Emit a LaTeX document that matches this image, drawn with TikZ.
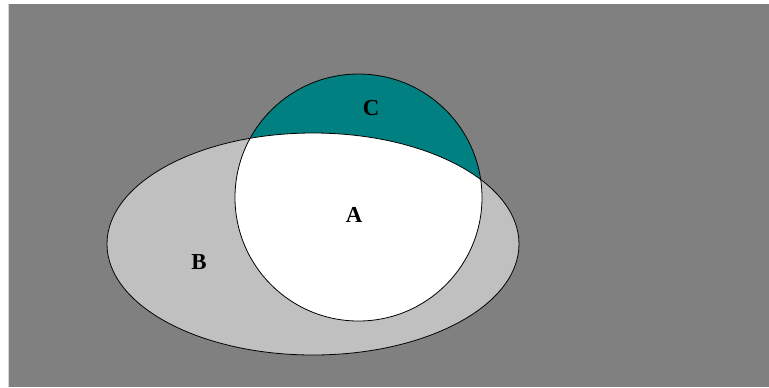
\documentclass[tikz,border=0pt]{standalone}
\usepackage{fontspec}
\setmainfont{Liberation Serif}
\definecolor{bggray}{HTML}{808080}
\definecolor{setB}{HTML}{C0C0C0}
\definecolor{setC}{HTML}{008080}
\definecolor{edgegray}{HTML}{D4D4D4}
\tikzset{setlabel/.style={font=\fontsize{13}{15}\selectfont\bfseries, inner sep=0pt}}

\begin{document}
\begin{tikzpicture}[x=0.02cm, y=-0.02cm]
    \useasboundingbox (0,0) rectangle (769,387);
    \fill[white] (0,0) rectangle (769,387);
    \fill[bggray] (9.5,4) rectangle (769,387);
    \fill[edgegray] (8,4) rectangle (9.5,387);
    % set B and set A (C is the part of A outside B)
    \fill[setB] (313,244) ellipse [x radius=206, y radius=111];
    \fill[setC] (358.5,197.5) circle [radius=123.5];
    \begin{scope}
      \clip (313,244) ellipse [x radius=206, y radius=111];
      \fill[white] (358.5,197.5) circle [radius=123.5];
    \end{scope}
    \draw[line width=0.45pt] (313,244) ellipse [x radius=206, y radius=111];
    \draw[line width=0.45pt] (358.5,197.5) circle [radius=123.5];
    \node[setlabel] (labC) at (371,108) {C};
    \node[setlabel] (labA) at (354,215) {A};
    \node[setlabel] (labB) at (199,262) {B};
\end{tikzpicture}
\end{document}
